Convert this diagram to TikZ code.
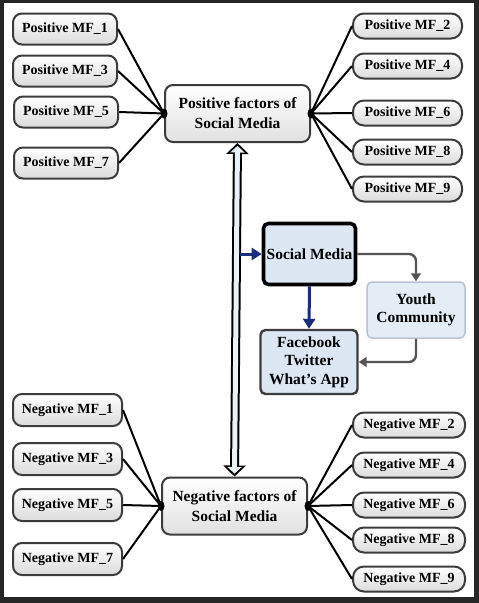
\documentclass[tikz,border=0pt]{standalone}
\usepackage{fontspec}
\setmainfont{Liberation Serif}
\usepackage{xcolor}
\definecolor{framegray}{RGB}{38, 38, 38}
\definecolor{edge}{RGB}{60, 60, 60}
\definecolor{paleblue}{RGB}{221, 231, 243}
\definecolor{youthedge}{RGB}{185, 195, 208}
\definecolor{navy}{RGB}{25, 45, 125}
\definecolor{linkgray}{RGB}{85, 85, 85}
\usepackage{tikz}
\usetikzlibrary{arrows.meta,calc,shapes.geometric}

\begin{document}
\begin{tikzpicture}[x=1pt, y=-1pt,
  every node/.style={font=\fontsize{14}{16}\selectfont\bfseries},
  mfleft/.style={draw=edge, line width=2pt, rounded corners=9pt, top color=white, bottom color=black!14, minimum width=104pt, minimum height=31pt, inner sep=0pt},
  mfright/.style={mfleft, rounded corners=11pt, minimum width=109pt, minimum height=25pt},
  factor/.style={draw=edge, line width=2pt, rounded corners=8pt, top color=white, bottom color=black!12, minimum width=145pt, minimum height=57pt, inner sep=0pt, align=center, font=\fontsize{15.5}{20}\selectfont\bfseries},
  media/.style={fill=paleblue, rounded corners=5pt, align=center, inner sep=0pt, font=\fontsize{15.5}{18.5}\selectfont\bfseries},
  spoke/.style={line width=2pt},
  hub/.style={ellipse, fill=black, inner sep=0pt, minimum width=7pt, minimum height=10pt},
  bluelink/.style={draw=navy, line width=3pt, -{Triangle[length=10pt, width=12pt]}},
  graylink/.style={draw=linkgray, line width=2.4pt, rounded corners=7pt, -{Triangle[length=8pt, width=10pt]}},
  twinouter/.style={draw=black, line width=9pt, {Triangle[length=11pt, width=22pt]}-{Triangle[length=11pt, width=22pt]}},
  twininner/.style={draw=paleblue!60, line width=5pt, shorten <=2.9pt, shorten >=2.9pt, {Triangle[length=6.6pt, width=14pt]}-{Triangle[length=6.6pt, width=14pt]}}
]
\fill[framegray] (0, 0) rectangle (479, 603);
\fill[white] (4, 3) rectangle (474, 597);

\node[factor] (pos) at (237.5, 113.5) {Positive factors of\\Social Media};
\node[factor] (neg) at (234.5, 506) {Negative factors of\\Social Media};

\node[mfleft] (pmf1) at (65, 29) {Positive MF\_1};
\node[mfleft] (pmf3) at (65, 71) {Positive MF\_3};
\node[mfleft] (pmf5) at (66, 112) {Positive MF\_5};
\node[mfleft] (pmf7) at (66, 163) {Positive MF\_7};
\node[mfright] (pmf2) at (407.5, 26) {Positive MF\_2};
\node[mfright] (pmf4) at (407.5, 66) {Positive MF\_4};
\node[mfright] (pmf6) at (407.5, 113) {Positive MF\_6};
\node[mfright] (pmf8) at (407.5, 152) {Positive MF\_8};
\node[mfright] (pmf9) at (407.5, 189) {Positive MF\_9};

\node[mfleft, minimum width=109pt, minimum height=32pt] (nmf1) at (67.5, 410) {Negative MF\_1};
\node[mfleft, minimum width=109pt, minimum height=32pt] (nmf3) at (67.5, 459) {Negative MF\_3};
\node[mfleft, minimum width=109pt, minimum height=32pt] (nmf5) at (67.5, 505) {Negative MF\_5};
\node[mfleft, minimum width=109pt, minimum height=32pt] (nmf7) at (67.5, 559) {Negative MF\_7};
\node[mfright, minimum width=112pt] (nmf2) at (409, 425) {Negative MF\_2};
\node[mfright, minimum width=112pt] (nmf4) at (409, 465) {Negative MF\_4};
\node[mfright, minimum width=112pt] (nmf6) at (409, 505) {Negative MF\_6};
\node[mfright, minimum width=112pt] (nmf8) at (409, 540) {Negative MF\_8};
\node[mfright, minimum width=112pt] (nmf9) at (409, 579) {Negative MF\_9};

\node[hub] (posL) at (pos.west) {};
\node[hub] (posR) at (pos.east) {};
\node[hub] (negL) at (neg.west) {};
\node[hub] (negR) at (neg.east) {};

\draw[spoke] (pmf1.east) -- (posL.center);
\draw[spoke] (pmf3.east) -- (posL.center);
\draw[spoke] (pmf5.east) -- (posL.center);
\draw[spoke] (pmf7.east) -- (posL.center);
\draw[spoke] (posR.center) -- (pmf2.west);
\draw[spoke] (posR.center) -- (pmf4.west);
\draw[spoke] (posR.center) -- (pmf6.west);
\draw[spoke] (posR.center) -- (pmf8.west);
\draw[spoke] (posR.center) -- (pmf9.west);
\draw[spoke] (nmf1.east) -- (negL.center);
\draw[spoke] (nmf3.east) -- (negL.center);
\draw[spoke] (nmf5.east) -- (negL.center);
\draw[spoke] (nmf7.east) -- (negL.center);
\draw[spoke] (negR.center) -- (nmf2.west);
\draw[spoke] (negR.center) -- (nmf4.west);
\draw[spoke] (negR.center) -- (nmf6.west);
\draw[spoke] (negR.center) -- (nmf8.west);
\draw[spoke] (negR.center) -- (nmf9.west);

\draw[twinouter] (pos.south) -- (neg.north);
\draw[twininner] (pos.south) -- (neg.north);

\node[media, draw=black, line width=3.6pt, minimum width=92pt, minimum height=61pt] (social) at (309.5, 254) {Social Media};
\node[media, draw=edge, line width=2.4pt, minimum width=97pt, minimum height=64pt] (apps) at (309, 362) {Facebook\\Twitter\\What’s App};
\node[media, fill=paleblue!80, draw=youthedge, line width=1.5pt, minimum width=98pt, minimum height=56pt] (youth) at (416, 310) {Youth\\Community};

\coordinate (tap) at (239.5, 254);
\draw[bluelink] (tap) -- (social.west);
\draw[bluelink] (social.south) -- (apps.north);
\draw[graylink] (social.east) -| (youth.north);
\draw[graylink] (youth.south) |- (apps.east);
\end{tikzpicture}
\end{document}
